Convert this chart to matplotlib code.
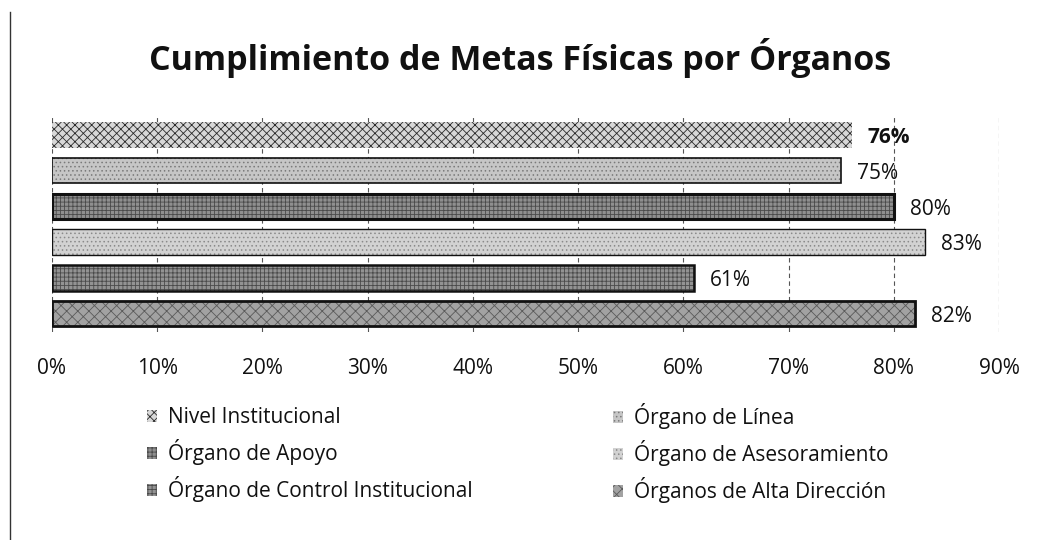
import matplotlib
matplotlib.use("Agg")
import matplotlib.pyplot as plt
from matplotlib.lines import Line2D
from matplotlib.ticker import PercentFormatter

# ---- data ----
title = "Cumplimiento de Metas Físicas por Órganos"
categories = [
    "Nivel Institucional",
    "Órgano de Línea",
    "Órgano de Apoyo",
    "Órgano de Asesoramiento",
    "Órgano de Control Institucional",
    "Órganos de Alta Dirección",
]
values = [0.76, 0.75, 0.80, 0.83, 0.61, 0.82]
x_ticks = [0.0, 0.1, 0.2, 0.3, 0.4, 0.5, 0.6, 0.7, 0.8, 0.9]

# ---- styles (grayscale scanned look) ----
faces = ["#d8d8d8", "#c6c6c6", "#8f8f8f", "#d2d2d2", "#939393", "#a2a2a2"]
hatch_cols = ["#2a2a2a", "#7a7a7a", "#4a4a4a", "#8a8a8a", "#4a4a4a", "#5a5a5a"]
hatches = ["xxxx", "....", "++++", "....", "++++", "xxx"]
border_lw = [0.0, 1.2, 2.2, 1.0, 1.8, 2.0]

plt.rcParams["font.family"] = ["Open Sans", "DejaVu Sans"]
plt.rcParams["hatch.linewidth"] = 0.6

fig = plt.figure(figsize=(10.4, 5.4), dpi=100)
ax = fig.add_axes([52 / 1040, (540 - 331.5) / 540, 947 / 1040, 214.5 / 540])

n = len(categories)
ypos = [n - 1 - i for i in range(n)]

handles = []
for i in range(n):
    b = ax.barh(ypos[i], values[i], height=0.72, color=faces[i], hatch=hatches[i],
                edgecolor=hatch_cols[i], linewidth=0, zorder=2, label=categories[i])
    handles.append(b)
    if border_lw[i] > 0:
        ax.barh(ypos[i], values[i], height=0.72, fill=False, edgecolor="#111111",
                linewidth=border_lw[i], zorder=3)
    ax.annotate(f"{values[i] * 100:.0f}%", xy=(values[i], ypos[i]),
                xytext=(11.5, -2), textcoords="offset points",
                ha="left", va="center", fontsize=15,
                fontweight="bold" if i == 0 else "normal", color="#111111")

ax.set_xlim(0, 0.9)
ax.set_ylim(-0.5, n - 0.5)
ax.set_xticks(x_ticks)
ax.xaxis.set_major_formatter(PercentFormatter(1.0, decimals=0))
ax.set_yticks([])
ax.tick_params(axis="x", length=0, pad=19, labelsize=15, colors="#111111")
for s in ax.spines.values():
    s.set_visible(False)
ax.grid(axis="x", color="#555555", linestyle=(0, (4, 3)), linewidth=0.8, zorder=0)
ax.set_axisbelow(True)

fig.text(0.5, 1 - 70 / 540, title, ha="center", va="baseline",
         fontsize=24.5, fontweight="bold", color="#111111")

# legend: two columns, row-major order as in the reference
left_h = [handles[0], handles[2], handles[4]]
right_h = [handles[1], handles[3], handles[5]]
common = dict(frameon=False, fontsize=15, handlelength=0.5, handleheight=0.5,
              handletextpad=0.5, labelspacing=0.53, borderpad=0, borderaxespad=0,
              loc="upper left", bbox_transform=fig.transFigure, labelcolor="#111111")
leg1 = ax.legend(left_h, [categories[0], categories[2], categories[4]],
                 bbox_to_anchor=(147 / 1040, 1 - 407 / 540), **common)
ax.add_artist(leg1)
ax.legend(right_h, [categories[1], categories[3], categories[5]],
          bbox_to_anchor=(613 / 1040, 1 - 403 / 540), **common)

# scanned page border on the left
fig.add_artist(Line2D([10 / 1040, 10 / 1040], [0, 1 - 12 / 540],
                      transform=fig.transFigure, color="#333333", linewidth=1.0))

fig.savefig("out.png", dpi=100, facecolor="white")
